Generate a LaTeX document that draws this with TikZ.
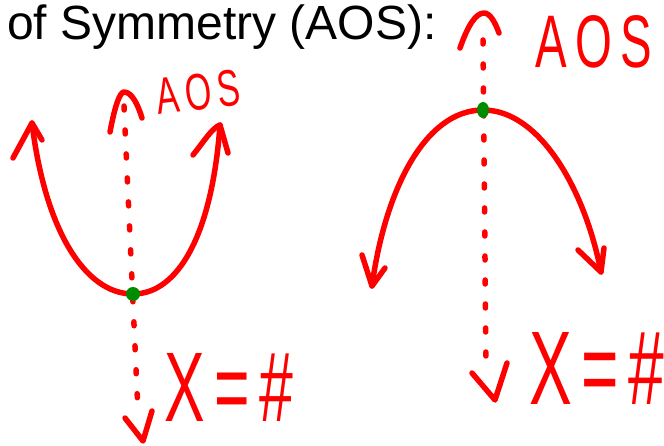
\documentclass[tikz,border=0pt]{standalone}
\usepackage{fontspec}
\setmainfont{Liberation Sans}
\definecolor{pen}{RGB}{255,0,0}
\definecolor{dotg}{RGB}{0,140,0}
\tikzset{
  ink/.style={draw=pen, line width=5.5pt, line cap=round, line join=round},
  axisline/.style={draw=pen, line width=5.5pt, line cap=round, dash pattern=on 4pt off 20pt},
  hand/.style={text=pen, inner sep=0pt},
  vtx/.style={fill=dotg, draw=none}
}
\begin{document}
\begin{tikzpicture}[x=1pt,y=-1pt]
\useasboundingbox (0,0) rectangle (664,446);
% title
\node[anchor=base west, inner sep=0pt, font=\fontsize{48}{52}\selectfont] (title) at (7,40) {of Symmetry (AOS):};

% ---------- left parabola (opens up) ----------
\coordinate (lv) at (133,294);
\coordinate (ltipL) at (32,123);
\coordinate (ltipR) at (220,125);
\draw[ink] (ltipL) .. controls (45,230) and (85,294) .. (lv)
                  .. controls (178,294) and (212,235) .. (ltipR);
\draw[ink] (13,158) -- (ltipL) -- (42,140);
\draw[ink] (193,155) .. controls (205,140) and (212,128) .. (ltipR) -- (228,153);
% left axis
\coordinate (laTop) at (124,106);
\coordinate (laBot) at (138,412);
\draw[axisline] (laTop) -- (laBot);
\draw[ink] (110,132) .. controls (115,105) and (120,92) .. (124,92) .. controls (132,92) and (138,105) .. (142,118);
\draw[ink] (125,418) -- (143,441) -- (152,411);
\fill[vtx] (lv) ellipse [x radius=7pt, y radius=7pt];
\node[hand, rotate=7] (aosL) at (198,92) {\resizebox{84pt}{36pt}{A\kern1.8pt O\kern1.8pt S}};
\node[hand] (xL) at (229,387) {\resizebox{128pt}{68pt}{X\kern1.5pt=\kern1.5pt\#}};

% ---------- right parabola (opens down) ----------
\coordinate (rv) at (483,110);
\coordinate (rtipL) at (372,286);
\coordinate (rtipR) at (601,272);
\draw[ink] (rtipL) .. controls (385,190) and (425,110) .. (rv)
                  .. controls (540,110) and (585,190) .. (rtipR);
\draw[ink] (362,255) -- (rtipL) -- (385,268);
\draw[ink] (578,250) -- (rtipR) -- (604,248);
% right axis
\coordinate (raTop) at (483,40);
\coordinate (raBot) at (486,368);
\draw[axisline] (raTop) -- (raBot);
\draw[ink] (460,48) .. controls (468,25) and (476,13) .. (484,13) .. controls (490,13) and (495,22) .. (499,33);
\draw[ink] (472,373) -- (495,400) -- (507,363);
\fill[vtx] (rv) ellipse [x radius=6pt, y radius=8pt];
\node[hand] (aosR) at (594,42) {\resizebox{117pt}{52pt}{A\kern1.8pt O\kern1.8pt S}};
\node[hand] (xR) at (597,368) {\resizebox{135pt}{72pt}{X\kern1.5pt=\kern1.5pt\#}};
\end{tikzpicture}
\end{document}
